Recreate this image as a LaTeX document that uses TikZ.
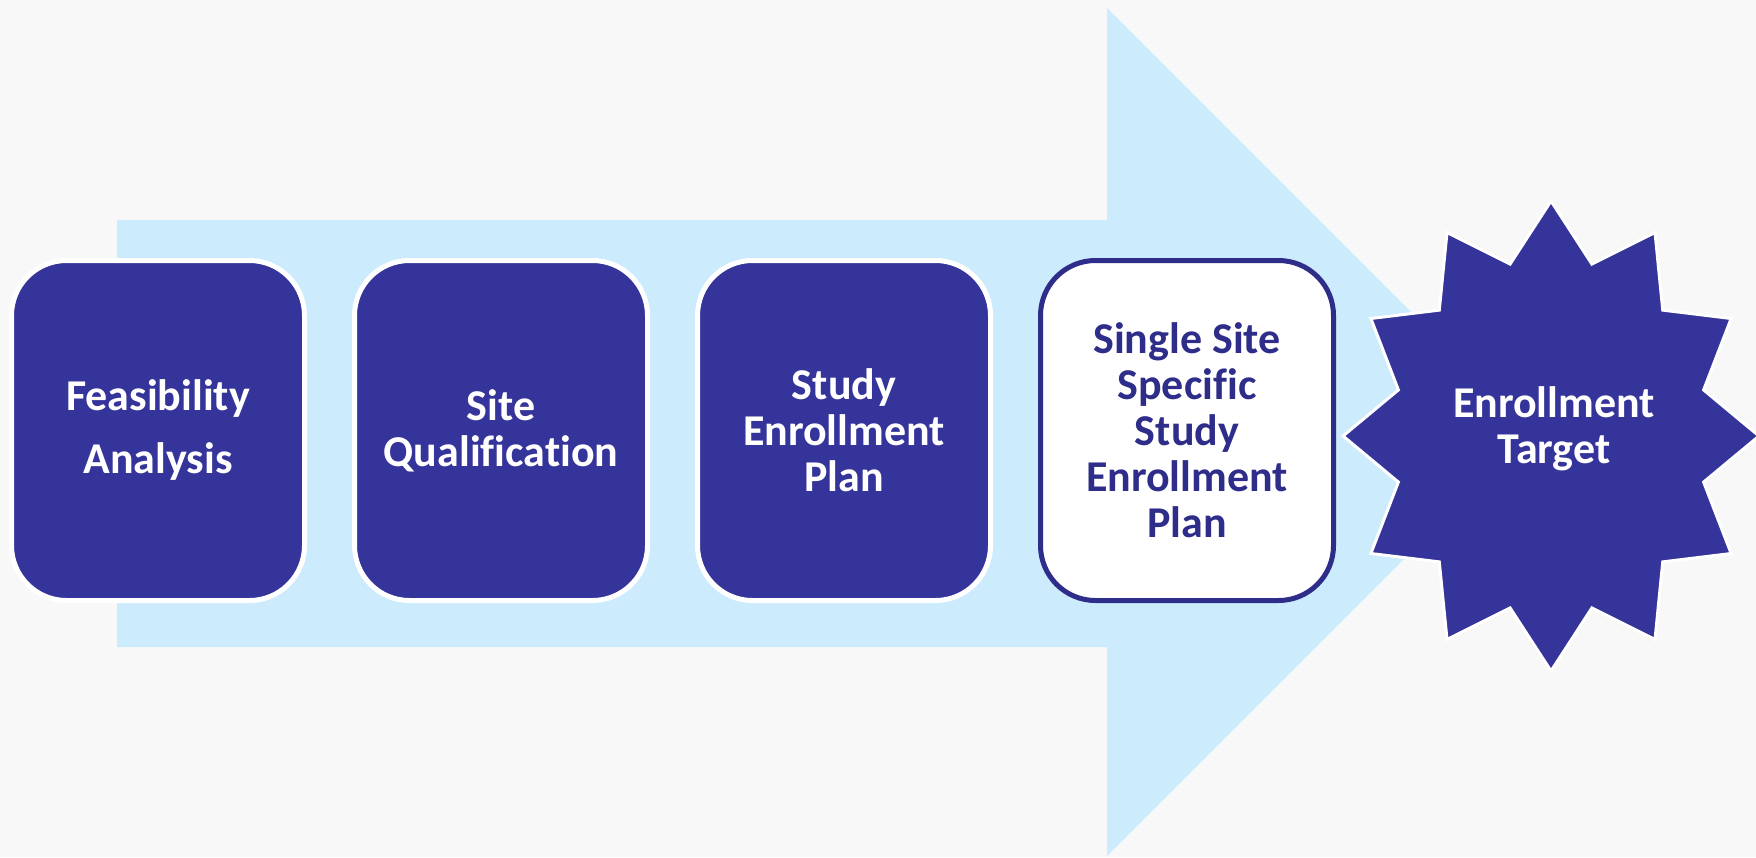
\documentclass[tikz,border=0pt]{standalone}
\usepackage{fontspec}
\setmainfont{Carlito}[Ligatures=NoCommon]
\definecolor{bgc}{RGB}{248,248,248}
\definecolor{darkfill}{RGB}{53,52,154}
\definecolor{lightarrow}{RGB}{204,235,253}
\definecolor{edgeblue}{RGB}{46,45,138}
\begin{document}
\begin{tikzpicture}[x=0.5pt,y=-0.5pt,
  stepbox/.style={rectangle, rounded corners=27.5pt, minimum width=146.5pt, minimum height=170pt,
    inner sep=0pt, outer sep=0pt, fill=darkfill, draw=white, line width=2.5pt, text=white,
    align=center, font=\bfseries\fontsize{22}{23}\selectfont},
  lastbox/.style={stepbox, fill=white, draw=edgeblue, text=edgeblue},
  startext/.style={text=white, align=center, inner sep=0pt, font=\bfseries\fontsize{22}{23}\selectfont}]
\useasboundingbox (0,0) rectangle (1756,857);
\clip (0,0) rectangle (1756,857);
\fill[bgc] (0,0) rectangle (1756,857);
% big arrow
\fill[lightarrow] (117,220) -- (1107,220) -- (1107,8) -- (1531,432) -- (1107,856) -- (1107,647) -- (117,647) -- cycle;
% boxes
\node[stepbox, font=\bfseries\fontsize{22}{31.5}\selectfont] (feas) at (158,430.5) {Feasibility\\Analysis};
\node[stepbox] (qual) at (501,430.5) {Site\\Qualification};
\node[stepbox] (plan) at (844,430.5) {Study\\Enrollment\\Plan};
\node[lastbox] (single) at (1187,430.5) {Single Site\\Specific\\Study\\Enrollment\\Plan};
% starburst
\filldraw[fill=darkfill, draw=white, line width=1.5pt, line join=miter]
  (1551+208,436) \foreach \i in {1,...,23} {
    -- ({1551+ifthenelse(mod(\i,2)==0,208,158)*cos(15*\i)}, {436+ifthenelse(mod(\i,2)==0,235,178)*sin(15*\i)})
  } -- cycle;
\node[startext] (target) at (1554,429) {Enrollment\\Target};
\end{tikzpicture}
\end{document}
